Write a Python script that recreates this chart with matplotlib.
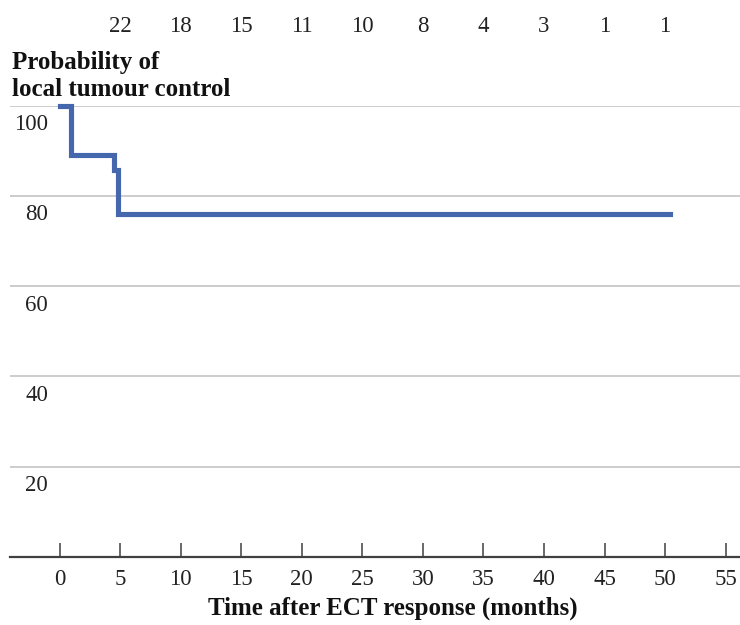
import matplotlib
matplotlib.use("Agg")
import matplotlib.pyplot as plt
import matplotlib.transforms as mtransforms

# Data
event_times = [0, 0.92, 4.53, 4.86, 50.4]
survival = [100, 89, 85.8, 76, 76]
x_ticks = [0, 5, 10, 15, 20, 25, 30, 35, 40, 45, 50, 55]
y_ticks = [20, 40, 60, 80, 100]
risk_times = [5, 10, 15, 20, 25, 30, 35, 40, 45, 50]
at_risk = [22, 18, 15, 11, 10, 8, 4, 3, 1, 1]

plt.rcParams['font.family'] = ['Liberation Serif', 'DejaVu Serif']

W, H = 740, 625
fig = plt.figure(figsize=(W / 100, H / 100), dpi=100)
left_px, right_px = 10, 740
bottom_px, top_px = 557, 105.7
ax = fig.add_axes([left_px / W, 1 - bottom_px / H, (right_px - left_px) / W, (bottom_px - top_px) / H])

# x mapping: 0 -> 59.5 px, 55 -> 725.7 px
x0_px, x55_px = 59.5, 725.7
ppu = (x55_px - x0_px) / 55
xmin = (left_px - x0_px) / ppu
xmax = (right_px - x0_px) / ppu
ax.set_xlim(xmin, xmax)
ax.set_ylim(0, 100)

for v in y_ticks:
    ax.axhline(v, color='#c4c4c4', lw=1.2, zorder=1)

ax.step(event_times, survival, where='post', color='#4467AD', lw=3.7, zorder=3,
        solid_joinstyle='miter', clip_on=False)

for s in ['top', 'right', 'left']:
    ax.spines[s].set_visible(False)
ax.spines['bottom'].set_color('#404040')
ax.spines['bottom'].set_linewidth(1.6)

ax.set_xticks(x_ticks)
ax.set_xticklabels([str(t) for t in x_ticks])
ax.tick_params(axis='x', direction='in', length=10, width=1.1, color='#404040',
               labelsize=16.5, pad=8.5, labelcolor='#222222')
ax.set_yticks([])

# y labels below gridlines, right-aligned
off = mtransforms.offset_copy(ax.transData, fig=fig, x=0, y=-19, units='dots')
blend = mtransforms.blended_transform_factory(fig.transFigure, off)
for v in y_ticks:
    ax.text(48 / W, v, str(v), transform=blend, ha='right', va='center',
            fontsize=16.5, color='#222222')

# Number at risk along top
top_tr = mtransforms.blended_transform_factory(ax.transData, fig.transFigure)
for t, n in zip(risk_times, at_risk):
    ax.text(t, 1 - 27 / H, str(n), transform=top_tr,
            ha='center', va='center', fontsize=16.5, color='#222222')

fig.text(12 / W, 1 - 63 / H, 'Probability of', ha='left', va='center',
         fontsize=18, fontweight='bold', color='#111111')
fig.text(12 / W, 1 - 90 / H, 'local tumour control', ha='left', va='center',
         fontsize=18, fontweight='bold', color='#111111')

fig.text(393 / W, 1 - 608 / H, 'Time after ECT response (months)', ha='center', va='center',
         fontsize=18, fontweight='bold', color='#111111')

fig.savefig('out.png', dpi=100)
